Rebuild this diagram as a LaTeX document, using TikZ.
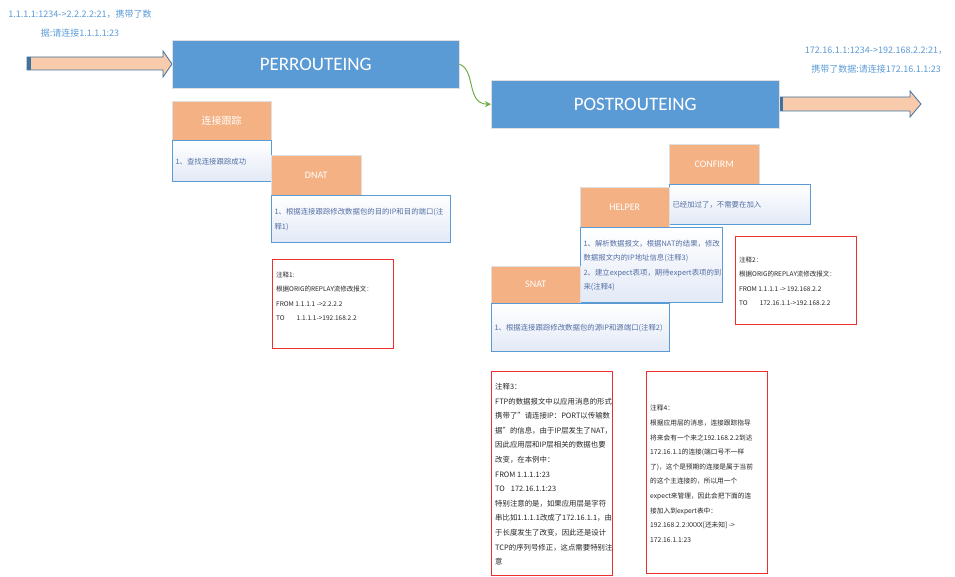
\documentclass[tikz,border=0pt]{standalone}
\usepackage{fontspec}
\setmainfont{Carlito}
\newfontfamily\cjk{Noto Sans CJK SC}
\usetikzlibrary{arrows.meta, positioning}
\definecolor{hookcolor}{RGB}{91,155,213}
\definecolor{hookedge}{RGB}{65,113,156}
\definecolor{hdrcolor}{RGB}{244,177,131}
\definecolor{pipecolor}{RGB}{248,203,173}
\definecolor{bodyfill}{RGB}{226,233,246}
\definecolor{bodytext}{RGB}{84,110,165}
\definecolor{flowgreen}{RGB}{112,173,71}
\definecolor{notered}{RGB}{238,45,45}

\begin{document}
\begin{tikzpicture}[
    x=1pt, y=1pt,
    hook/.style={rectangle, draw=black!12, fill=hookcolor, text=white, minimum width=287pt, minimum height=48pt, anchor=north west, font=\fontsize{19}{19}\selectfont},
    hdr/.style={rectangle, draw=black!12, fill=hdrcolor, text=white, minimum width=89pt, minimum height=40pt, anchor=north west, font=\fontsize{10}{10}\selectfont},
    body/.style={rectangle, draw=hookcolor, line width=1pt, top color=white, bottom color=bodyfill, text=bodytext, align=left, inner sep=3pt, font=\cjk\fontsize{7.4}{14.5}\selectfont},
    note/.style={rectangle, draw=notered, line width=1.2pt, fill=white, anchor=north west},
    notetext/.style={align=left, inner sep=0pt, text=black!85, font=\cjk\fontsize{6.5}{14.3}\selectfont},
    toptext/.style={align=center, text=hookcolor, font=\cjk\fontsize{9}{19}\selectfont},
    pipe/.style={draw=hookedge, fill=pipecolor, line width=0.8pt},
    flow/.style={-{Stealth[length=6pt, width=6pt]}, draw=flowgreen, line width=1pt}
]
    \useasboundingbox (0,0) rectangle (955,-577);

    % Packet in / out
    \draw[pipe] (27,-57) -- (163,-57) -- (163,-51) -- (172,-64) -- (163,-77) -- (163,-70) -- (27,-70) -- cycle;
    \fill[hookedge] (27,-57) rectangle (31,-70);
    \draw[pipe] (779,-97) -- (910,-97) -- (910,-91) -- (921,-104) -- (910,-117) -- (910,-111) -- (779,-111) -- cycle;
    \fill[hookedge] (779,-97) rectangle (783,-111);

    \node[toptext] (intext) at (80,-24) {1.1.1.1:1234->2.2.2.2:21，携带了数\\据:请连接1.1.1.1:23};
    \node[toptext] (outtext) at (876,-60) {172.16.1.1:1234->192.168.2.2:21，\\携带了数据:请连接172.16.1.1:23};

    % Hooks
    \node[hook] (per) at (172,-40) {PERROUTEING};
    \node[hook, minimum width=288pt] (post) at (491,-80) {POSTROUTEING};
    \draw[flow] (per.east) .. controls (476,-70) and (466,-104) .. (post.west);

    % PREROUTING steps
    \node[hdr, minimum width=99pt, minimum height=39pt] (connhdr) at (172,-101) {\cjk 连接跟踪};
    \node[body, below right=0pt and 0pt of connhdr.south west, minimum width=99pt, minimum height=41pt, text width=93pt] (connbody) {1、查找连接跟踪成功};

    \node[hdr, minimum width=90pt] (dnathdr) at (271,-155) {DNAT};
    \node[body, below right=0pt and 0pt of dnathdr.south west, minimum width=179pt, minimum height=47pt, text width=173pt] (dnatbody) {1、根据连接跟踪修改数据包的目的IP和目的端口(注\\释1)};

    % POSTROUTING steps
    \node[hdr, minimum width=90pt] (confirmhdr) at (669,-144) {CONFIRM};
    \node[body, below right=0pt and 0pt of confirmhdr.south west, minimum width=141pt, minimum height=40pt, text width=135pt] (confirmbody) {已经加过了，不需要在加入};

    \node[hdr] (helperhdr) at (580,-187) {HELPER};
    \node[body, below right=0pt and 0pt of helperhdr.south west, minimum width=141pt, minimum height=75pt, text width=136pt] (helperbody) {1、解析数据报文，根据NAT的结果，修改\\数据报文内的IP地址信息(注释3)\\2、建立expect表项，期待expert表项的到\\来(注释4)};

    \node[hdr, minimum height=37pt] (snathdr) at (491,-266) {SNAT};
    \node[body, below right=0pt and 0pt of snathdr.south west, minimum width=178pt, minimum height=48pt, text width=172pt] (snatbody) {1、根据连接跟踪修改数据包的源IP和源端口(注释2)};

    % Notes
    \node[note, minimum width=121pt, minimum height=89pt] (note1) at (272,-259) {};
    \node[notetext, below right=13pt and 4pt of note1.north west] (note1text) {注释1:\\根据ORIG的REPLAY流修改报文：\\FROM 1.1.1.1 ->2.2.2.2\\TO\hspace{12pt}1.1.1.1->192.168.2.2};

    \node[note, minimum width=121pt, minimum height=88pt] (note2) at (735,-236) {};
    \node[notetext, below right=21pt and 4pt of note2.north west] (note2text) {注释2：\\根据ORIG的REPLAY流修改报文：\\FROM 1.1.1.1 -> 192.168.2.2\\TO\hspace{12pt}172.16.1.1->192.168.2.2};

    \node[note, minimum width=121pt, minimum height=204pt] (note3) at (491,-371) {};
    \node[notetext, below right=12pt and 4pt of note3.north west, font=\cjk\fontsize{7.4}{14.6}\selectfont] (note3text) {注释3：\\FTP的数据报文中以应用消息的形式\\携带了”请连接IP：PORT以传输数\\据”的信息，由于IP层发生了NAT，\\因此应用层和IP层相关的数据也要\\改变，在本例中：\\FROM 1.1.1.1:23\\TO\hspace{6pt}172.16.1.1:23\\特别注意的是，如果应用层是字符\\串比如1.1.1.1改成了172.16.1.1，由\\于长度发生了改变，因此还是设计\\TCP的序列号修正，这点需要特别注\\意};

    \node[note, minimum width=121pt, minimum height=202pt] (note4) at (646,-371) {};
    \node[notetext, below right=34pt and 4pt of note4.north west, font=\cjk\fontsize{6.7}{14.6}\selectfont] (note4text) {注释4：\\根据应用层的消息，连接跟踪指导\\将来会有一个来之192.168.2.2到达\\172.16.1.1的连接(端口号不一样\\了)，这个是预期的连接是属于当前\\的这个主连接的，所以用一个\\expect来管理，因此会把下面的连\\接加入到expert表中：\\192.168.2.2:XXXX[还未知] ->\\172.16.1.1:23};

\end{tikzpicture}
\end{document}
